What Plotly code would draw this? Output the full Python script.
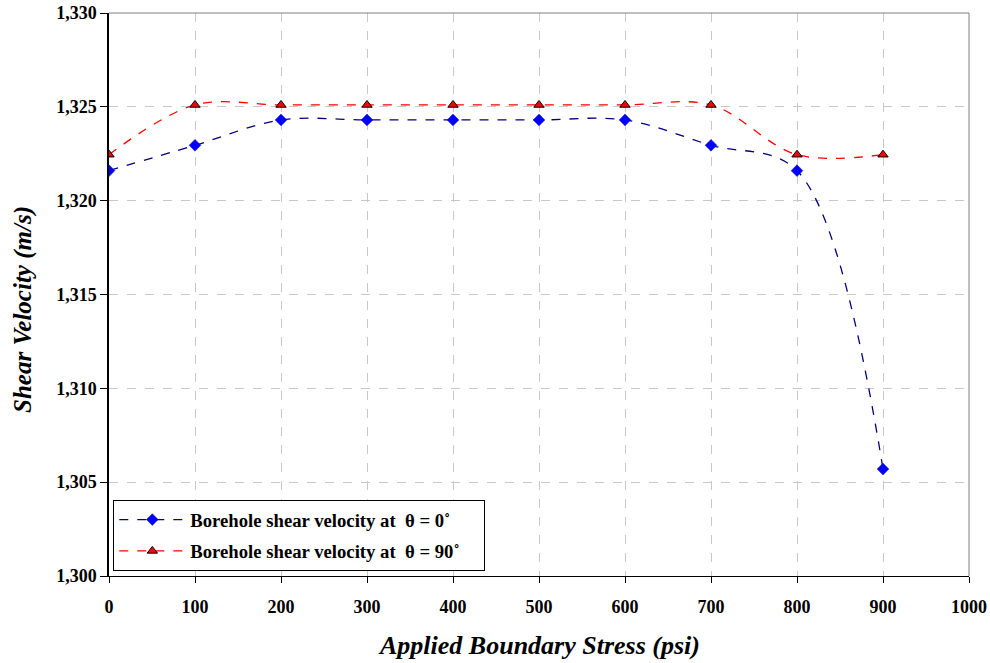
import plotly.graph_objects as go

stress_psi = [0, 100, 200, 300, 400, 500, 600, 700, 800, 900]
vs_theta0 = [1321.6, 1322.95, 1324.3, 1324.3, 1324.3, 1324.3, 1324.3, 1322.95, 1321.6, 1305.7]
vs_theta90 = [1322.45, 1325.1, 1325.1, 1325.1, 1325.1, 1325.1, 1325.1, 1325.1, 1322.45, 1322.45]

x_ticks = [0, 100, 200, 300, 400, 500, 600, 700, 800, 900, 1000]
y_ticks = [1300, 1305, 1310, 1315, 1320, 1325, 1330]
y_tick_text = ["1,300", "1,305", "1,310", "1,315", "1,320", "1,325", "1,330"]

FONT = "Liberation Serif"
PAD = "\u00a0" * 4  # right padding inside the legend box

fig = go.Figure()
fig.add_trace(go.Scatter(
    x=stress_psi, y=vs_theta0, mode="lines+markers", legendgroup="t0",
    name="<b>Borehole shear velocity at  θ = 0˚</b>" + PAD,
    line=dict(color="#000080", width=1.3, dash="dash", shape="spline", smoothing=1),
    marker=dict(symbol="diamond", size=9, color="#0000FF",
                line=dict(color="#0000C0", width=0.5)),
))
fig.add_trace(go.Scatter(
    x=stress_psi, y=vs_theta90, mode="lines+markers", legendgroup="t90",
    name="<b>Borehole shear velocity at  θ = 90˚</b>" + PAD,
    line=dict(color="#FF0000", width=1.3, dash="dash", shape="spline", smoothing=1),
    marker=dict(symbol="triangle-up", size=9, color="#FF0000",
                line=dict(color="#000000", width=1)),
))

fig.update_layout(
    width=990, height=663,
    margin=dict(l=109, r=21, t=13, b=87),
    paper_bgcolor="white", plot_bgcolor="white",
    font=dict(family=FONT, color="black", size=16),
    showlegend=True,
    legend=dict(
        x=0.005, y=0.009, xanchor="left", yanchor="bottom",
        bgcolor="white", bordercolor="black", borderwidth=1,
        font=dict(family=FONT, size=18.7, color="black"),
        itemwidth=66, tracegroupgap=4,
    ),
    xaxis=dict(
        range=[0, 1000], tickvals=x_ticks, automargin=False,
        ticks="outside", ticklen=6, tickcolor="black", ticklabelstandoff=8,
        showline=True, linecolor="black", linewidth=1, mirror=False,
        showgrid=True, gridcolor="#C8C8C8", griddash="dash", gridwidth=1,
        zeroline=False,
        tickfont=dict(family=FONT, size=18, color="black", weight="bold"),
    ),
    yaxis=dict(
        range=[1300, 1330], tickvals=y_ticks, ticktext=y_tick_text, automargin=False,
        ticks="outside", ticklen=7, tickcolor="black",
        showline=True, linecolor="black", linewidth=1.5,
        showgrid=True, gridcolor="#C8C8C8", griddash="dash", gridwidth=1,
        zeroline=False,
        tickfont=dict(family=FONT, size=18, color="black", weight="bold"),
    ),
    annotations=[
        dict(text="<b><i>Applied Boundary Stress (psi)</i></b>", xref="paper", yref="paper",
             x=0.5, y=-0.1226, xanchor="center", yanchor="middle", showarrow=False,
             font=dict(family=FONT, size=26, color="black")),
        dict(text="<b><i>Shear Velocity (m/s)</i></b>", xref="paper", yref="paper",
             x=-0.1, y=0.4725, xanchor="center", yanchor="middle", showarrow=False,
             textangle=-90, font=dict(family=FONT, size=25, color="black")),
    ],
    shapes=[
        dict(type="line", xref="paper", yref="paper", x0=0, x1=1, y0=1, y1=1,
             line=dict(color="#808080", width=1)),
        dict(type="line", xref="paper", yref="paper", x0=1, x1=1, y0=0, y1=1,
             line=dict(color="#808080", width=1)),
    ],
)

fig.write_html("out.html")
